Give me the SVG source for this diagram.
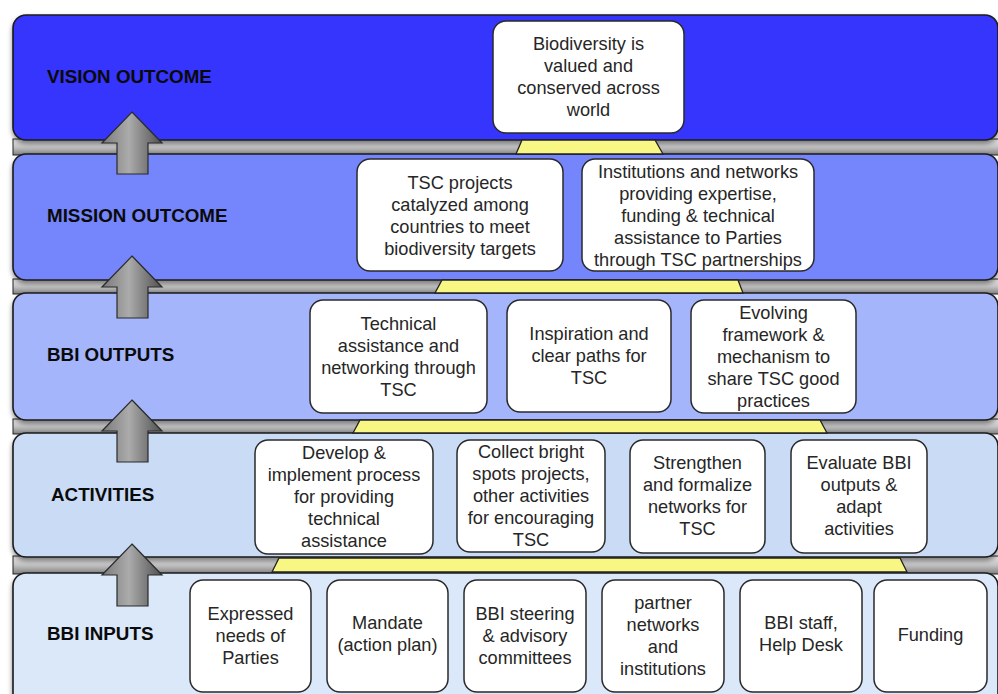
<svg xmlns="http://www.w3.org/2000/svg" width="998" height="694" viewBox="0 0 998 694">
<defs>
  <linearGradient id="gapGrad" x1="0" y1="0" x2="0" y2="1">
    <stop offset="0" stop-color="#e6e6e6"/>
    <stop offset="0.5" stop-color="#c4c4c4"/>
    <stop offset="1" stop-color="#808080"/>
  </linearGradient>
  <linearGradient id="arrowGrad" x1="0" y1="0" x2="1" y2="0">
    <stop offset="0" stop-color="#7a7a7a"/>
    <stop offset="0.45" stop-color="#ababab"/>
    <stop offset="1" stop-color="#505050"/>
  </linearGradient>
  <filter id="shadow" x="-5%" y="-10%" width="110%" height="130%">
    <feDropShadow dx="0" dy="3" stdDeviation="2.5" flood-color="#000" flood-opacity="0.45"/>
  </filter>
</defs>
<style>
  .band { stroke: #1a1a1a; stroke-width: 1.6; }
  .gap { fill: url(#gapGrad); stroke: #222; stroke-width: 1; }
  .ped { fill: #f9f784; stroke: #222; stroke-width: 1.3; }
  .node rect { fill: #ffffff; stroke: #2a2a2a; stroke-width: 1.5; }
  .node text { font-family: "Liberation Sans", Arial, sans-serif; font-size: 18.2px; fill: #262626; text-anchor: middle; }
  .label { font-family: "Liberation Sans", Arial, sans-serif; font-size: 18.8px; font-weight: bold; fill: #0a0a0a; }
  .arrow { fill: url(#arrowGrad); stroke: #2a2a2a; stroke-width: 1.2; stroke-linejoin: miter; }
</style>

<g id="gaps">
  <rect class="gap" x="13" y="139" width="990" height="16"/>
  <rect class="gap" x="13" y="279" width="990" height="15"/>
  <rect class="gap" x="13" y="419" width="990" height="15"/>
  <rect class="gap" x="13" y="556" width="990" height="18"/>
</g>

<g id="bands">
  <rect id="band-inputs" class="band" x="13" y="573" width="985" height="135" rx="13" fill="#dbe8fa" filter="url(#shadow)"/>
  <rect id="band-activities" class="band" x="13" y="433" width="985" height="124" rx="13" fill="#c9dbf5" filter="url(#shadow)"/>
  <rect id="band-outputs" class="band" x="13" y="293" width="985" height="127" rx="13" fill="#a4b5fc" filter="url(#shadow)"/>
  <rect id="band-mission" class="band" x="13" y="154" width="985" height="126" rx="13" fill="#7585fb" filter="url(#shadow)"/>
  <rect id="band-vision" class="band" x="13" y="15" width="985" height="125" rx="13" fill="#3636fd" filter="url(#shadow)"/>
</g>

<g id="pedestals">
  <polygon class="ped" points="522,140 655,140 663,154 516,154"/>
  <polygon class="ped" points="442,280 738,280 743,293 435,293"/>
  <polygon class="ped" points="360,420 820,420 827,433 353,433"/>
  <polygon class="ped" points="279,558 900,558 907,572 272,572"/>
</g>

<g id="labels">
  <text class="label" x="47" y="83">VISION OUTCOME</text>
  <text class="label" x="47" y="222">MISSION OUTCOME</text>
  <text class="label" x="47" y="361">BBI OUTPUTS</text>
  <text class="label" x="51" y="501">ACTIVITIES</text>
  <text class="label" x="47" y="640">BBI INPUTS</text>
</g>

<g id="node-vision" class="node">
  <rect x="493" y="21" width="191" height="112" rx="13"/>
  <text x="588.5" y="50"><tspan x="588.5">Biodiversity is</tspan><tspan x="588.5" dy="22">valued and</tspan><tspan x="588.5" dy="22">conserved across</tspan><tspan x="588.5" dy="22">world</tspan></text>
</g>

<g id="node-mission-1" class="node">
  <rect x="357" y="159" width="206" height="112" rx="13"/>
  <text x="460" y="189"><tspan x="460">TSC projects</tspan><tspan x="460" dy="22">catalyzed among</tspan><tspan x="460" dy="22">countries to meet</tspan><tspan x="460" dy="22">biodiversity targets</tspan></text>
</g>
<g id="node-mission-2" class="node">
  <rect x="582" y="159" width="232" height="112" rx="13"/>
  <text x="698" y="178"><tspan x="698">Institutions and networks</tspan><tspan x="698" dy="22">providing expertise,</tspan><tspan x="698" dy="22">funding &amp; technical</tspan><tspan x="698" dy="22">assistance to Parties</tspan><tspan x="698" dy="22">through TSC partnerships</tspan></text>
</g>

<g id="node-output-1" class="node">
  <rect x="310" y="300" width="177" height="113" rx="13"/>
  <text x="398.5" y="330"><tspan x="398.5">Technical</tspan><tspan x="398.5" dy="22">assistance and</tspan><tspan x="398.5" dy="22">networking through</tspan><tspan x="398.5" dy="22">TSC</tspan></text>
</g>
<g id="node-output-2" class="node">
  <rect x="507" y="300" width="164" height="112" rx="13"/>
  <text x="589" y="340"><tspan x="589">Inspiration and</tspan><tspan x="589" dy="22">clear paths for</tspan><tspan x="589" dy="22">TSC</tspan></text>
</g>
<g id="node-output-3" class="node">
  <rect x="691" y="300" width="165" height="113" rx="13"/>
  <text x="773.5" y="319"><tspan x="773.5">Evolving</tspan><tspan x="773.5" dy="22">framework &amp;</tspan><tspan x="773.5" dy="22">mechanism to</tspan><tspan x="773.5" dy="22">share TSC good</tspan><tspan x="773.5" dy="22">practices</tspan></text>
</g>

<g id="node-activity-1" class="node">
  <rect x="255" y="440" width="178" height="114" rx="13"/>
  <text x="344" y="459"><tspan x="344">Develop &amp;</tspan><tspan x="344" dy="22">implement process</tspan><tspan x="344" dy="22">for providing</tspan><tspan x="344" dy="22">technical</tspan><tspan x="344" dy="22">assistance</tspan></text>
</g>
<g id="node-activity-2" class="node">
  <rect x="457" y="440" width="148" height="112" rx="13"/>
  <text x="531" y="458"><tspan x="531">Collect bright</tspan><tspan x="531" dy="22">spots projects,</tspan><tspan x="531" dy="22">other activities</tspan><tspan x="531" dy="22">for encouraging</tspan><tspan x="531" dy="22">TSC</tspan></text>
</g>
<g id="node-activity-3" class="node">
  <rect x="630" y="440" width="135" height="113" rx="13"/>
  <text x="697.5" y="469"><tspan x="697.5">Strengthen</tspan><tspan x="697.5" dy="22">and formalize</tspan><tspan x="697.5" dy="22">networks for</tspan><tspan x="697.5" dy="22">TSC</tspan></text>
</g>
<g id="node-activity-4" class="node">
  <rect x="791" y="440" width="136" height="113" rx="13"/>
  <text x="859" y="469"><tspan x="859">Evaluate BBI</tspan><tspan x="859" dy="22">outputs &amp;</tspan><tspan x="859" dy="22">adapt</tspan><tspan x="859" dy="22">activities</tspan></text>
</g>

<g id="node-input-1" class="node">
  <rect x="190" y="580" width="121" height="112" rx="13"/>
  <text x="250.5" y="620"><tspan x="250.5">Expressed</tspan><tspan x="250.5" dy="22">needs of</tspan><tspan x="250.5" dy="22">Parties</tspan></text>
</g>
<g id="node-input-2" class="node">
  <rect x="327" y="580" width="121" height="112" rx="13"/>
  <text x="387.5" y="629"><tspan x="387.5">Mandate</tspan><tspan x="387.5" dy="22">(action plan)</tspan></text>
</g>
<g id="node-input-3" class="node">
  <rect x="464" y="580" width="122" height="112" rx="13"/>
  <text x="525" y="620"><tspan x="525">BBI steering</tspan><tspan x="525" dy="22">&amp; advisory</tspan><tspan x="525" dy="22">committees</tspan></text>
</g>
<g id="node-input-4" class="node">
  <rect x="602" y="580" width="122" height="112" rx="13"/>
  <text x="663" y="609"><tspan x="663">partner</tspan><tspan x="663" dy="22">networks</tspan><tspan x="663" dy="22">and</tspan><tspan x="663" dy="22">institutions</tspan></text>
</g>
<g id="node-input-5" class="node">
  <rect x="740" y="580" width="122" height="112" rx="13"/>
  <text x="801" y="629"><tspan x="801">BBI staff,</tspan><tspan x="801" dy="22">Help Desk</tspan></text>
</g>
<g id="node-input-6" class="node">
  <rect x="874" y="580" width="113" height="112" rx="13"/>
  <text x="930.5" y="641">Funding</text>
</g>

<g id="connectors">
  <path class="arrow" d="M132,112 L162,143 L148,143 L148,174 L117,174 L117,143 L102,143 Z"/>
  <path class="arrow" d="M132,256 L162,287 L148,287 L148,318 L117,318 L117,287 L102,287 Z"/>
  <path class="arrow" d="M132,400 L162,431 L148,431 L148,462 L117,462 L117,431 L102,431 Z"/>
  <path class="arrow" d="M132,544 L162,575 L148,575 L148,606 L117,606 L117,575 L102,575 Z"/>
</g>
</svg>
